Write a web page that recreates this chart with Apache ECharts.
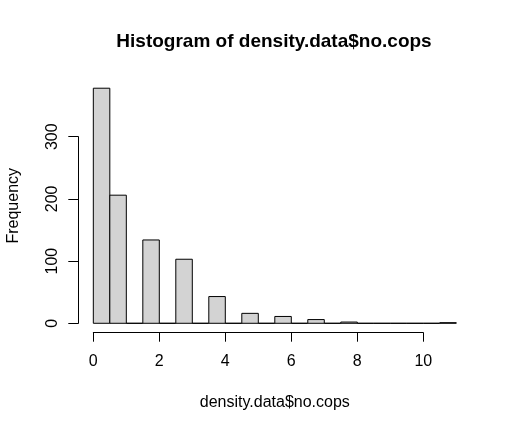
<!DOCTYPE html>
<html>
<head>
<meta charset="utf-8">
<script src="https://cdn.jsdelivr.net/npm/echarts@6/dist/echarts.min.js"></script>
<style>
html, body { margin: 0; padding: 0; background: #fff; }
#main { width: 511px; height: 431px; }
</style>
</head>
<body>
<div id="main"></div>
<script>
// histogram bins (width 0.5) and counts
let binStart = 0;
let binWidth = 0.5;
let counts = [378, 206, 0, 134, 0, 103, 0, 43, 0, 16, 0, 11, 0, 6, 0, 2, 0, 0, 0, 0, 0, 1];
let xTicks = [0, 2, 4, 6, 8, 10];
let yTicks = [0, 100, 200, 300];

let font = '"Liberation Sans", Arial, sans-serif';
let bins = counts.map(function (c, i) {
	let lo = binStart + i * binWidth;
	return [lo, lo + binWidth, c];
});

let myChart = echarts.init(document.getElementById('main'));
let option = {
	backgroundColor: '#fff',
	animation: false,
	title: {
		text: 'Histogram of density.data$no.cops',
		left: 269,
		textAlign: 'center',
		top: 27,
		textStyle: { fontFamily: font, fontSize: 19, fontWeight: 'bold', color: '#000' }
	},
	grid: [
		// plot region (like R's usr: data range padded 4% each side)
		{ left: 78.8, width: 392, top: 78.8, height: 253.9, outerBoundsMode: 'none' },
		// x axis (0..10), at the bottom of the plot region
		{ left: 93.3, width: 330, top: 322.7, height: 10, outerBoundsMode: 'none' },
		// y axis (0..300)
		{ left: 78.3, width: 10, top: 136.7, height: 186.6, outerBoundsMode: 'none' }
	],
	xAxis: [
		{
			gridIndex: 0, type: 'value', min: -0.44, max: 11.44,
			axisLine: { show: false }, axisTick: { show: false },
			axisLabel: { show: false }, splitLine: { show: false },
			name: 'density.data$no.cops',
			nameLocation: 'middle',
			nameGap: 62,
			nameTextStyle: { fontFamily: font, fontSize: 16, color: '#000' }
		},
		{
			gridIndex: 1, type: 'value', min: xTicks[0], max: xTicks[xTicks.length - 1], interval: 2,
			position: 'bottom',
			axisLine: { lineStyle: { color: '#000', width: 1 } },
			axisTick: { length: 9, lineStyle: { color: '#000' } },
			axisLabel: { fontFamily: font, fontSize: 16, color: '#000', margin: 21 },
			splitLine: { show: false }
		},
		{ gridIndex: 2, type: 'value', show: false }
	],
	yAxis: [
		{
			gridIndex: 0, type: 'value', min: -15.12, max: 393.12,
			axisLine: { show: false }, axisTick: { show: false },
			axisLabel: { show: false }, splitLine: { show: false },
			name: 'Frequency',
			nameLocation: 'middle',
			nameGap: 57,
			nameRotate: 90,
			nameTextStyle: { fontFamily: font, fontSize: 16, color: '#000' }
		},
		{ gridIndex: 1, type: 'value', show: false },
		{
			gridIndex: 2, type: 'value', min: yTicks[0], max: yTicks[yTicks.length - 1], interval: 100,
			position: 'left',
			axisLine: { show: true, lineStyle: { color: '#000', width: 1 } },
			axisTick: { show: true, length: 10, lineStyle: { color: '#000' } },
			axisLabel: { fontFamily: font, fontSize: 16, color: '#000', rotate: 90, margin: 18 },
			splitLine: { show: false }
		}
	],
	series: [{
		type: 'custom',
		xAxisIndex: 0,
		yAxisIndex: 0,
		clip: false,
		data: bins,
		renderItem: function (params, api) {
			let p0 = api.coord([api.value(0), api.value(2)]);
			let p1 = api.coord([api.value(1), 0]);
			return {
				type: 'rect',
				shape: { x: p0[0], y: p0[1], width: p1[0] - p0[0], height: p1[1] - p0[1] },
				style: { fill: '#d3d3d3', stroke: '#000', lineWidth: 1 }
			};
		}
	}]
};
myChart.setOption(option);
</script>
</body>
</html>
